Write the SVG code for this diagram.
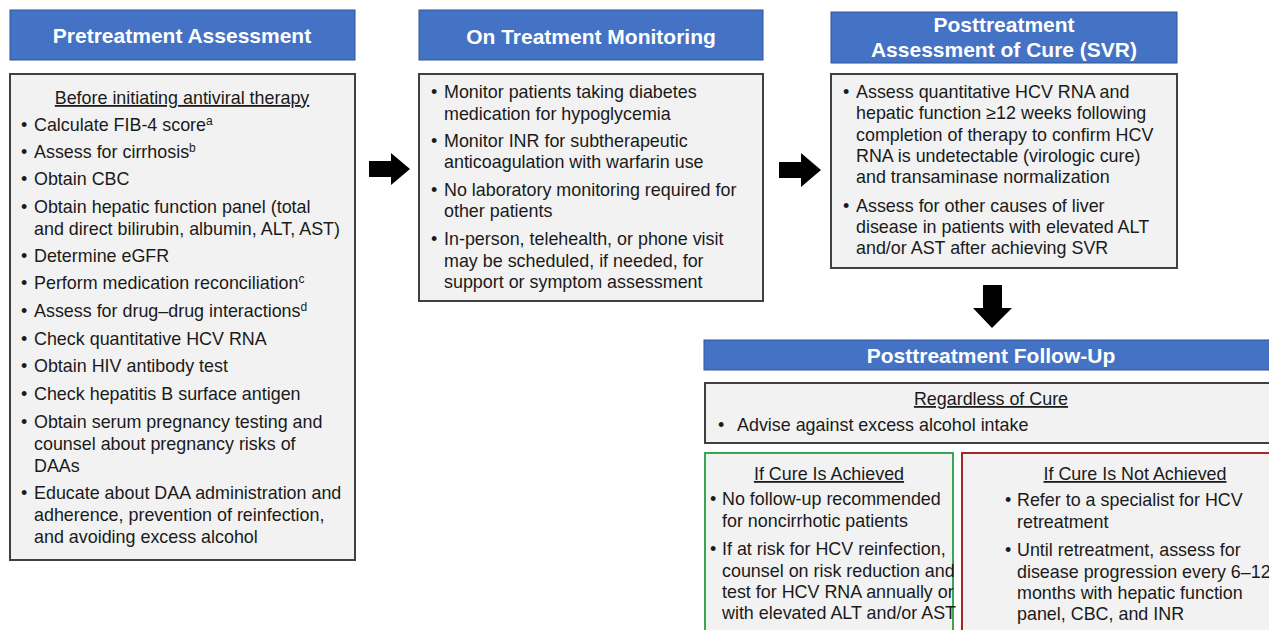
<svg xmlns="http://www.w3.org/2000/svg" width="1269" height="630" viewBox="0 0 1269 630">
<style>
.hdr{fill:#4472C4;stroke:#2F5597;stroke-width:1}
.ht{font-family:"Liberation Sans",Arial,sans-serif;font-weight:bold;font-size:21px;fill:#fff;text-anchor:middle}
.box{fill:#F2F2F2;stroke:#404040;stroke-width:2}
.t{font-family:"Liberation Sans",Arial,sans-serif;font-size:17.9px;fill:#1a1a1a}
.u{text-decoration:underline;text-anchor:middle}
.arr{fill:#000}
</style>
<rect width="1269" height="630" fill="#fff"/>

<g id="pretreatment">
<rect class="hdr" x="10" y="10" width="345" height="50"/>
<text class="ht" x="182" y="43">Pretreatment Assessment</text>
<rect class="box" x="10" y="74" width="345" height="486"/>
<text class="t u" x="182" y="104">Before initiating antiviral therapy</text>
<g class="t">
<text x="21" y="131">•</text><text x="34" y="131">Calculate FIB-4 score<tspan font-size="12" dy="-6">a</tspan></text>
<text x="21" y="158">•</text><text x="34" y="158">Assess for cirrhosis<tspan font-size="12" dy="-6">b</tspan></text>
<text x="21" y="185">•</text><text x="34" y="185">Obtain CBC</text>
<text x="21" y="213">•</text><text x="34" y="213">Obtain hepatic function panel (total</text>
<text x="34" y="235">and direct bilirubin, albumin, ALT, AST)</text>
<text x="21" y="262">•</text><text x="34" y="262">Determine eGFR</text>
<text x="21" y="289">•</text><text x="34" y="289">Perform medication reconciliation<tspan font-size="12" dy="-6">c</tspan></text>
<text x="21" y="317">•</text><text x="34" y="317">Assess for drug–drug interactions<tspan font-size="12" dy="-6">d</tspan></text>
<text x="21" y="345">•</text><text x="34" y="345">Check quantitative HCV RNA</text>
<text x="21" y="372">•</text><text x="34" y="372">Obtain HIV antibody test</text>
<text x="21" y="400">•</text><text x="34" y="400">Check hepatitis B surface antigen</text>
<text x="21" y="428">•</text><text x="34" y="428">Obtain serum pregnancy testing and</text>
<text x="34" y="450">counsel about pregnancy risks of</text>
<text x="34" y="472">DAAs</text>
<text x="21" y="499">•</text><text x="34" y="499">Educate about DAA administration and</text>
<text x="34" y="521">adherence, prevention of reinfection,</text>
<text x="34" y="543">and avoiding excess alcohol</text>
</g>
</g>

<g id="on-treatment">
<rect class="hdr" x="419" y="10" width="344" height="50"/>
<text class="ht" x="591" y="44">On Treatment Monitoring</text>
<rect class="box" x="419" y="74" width="344" height="227"/>
<g class="t">
<text x="431" y="98">•</text><text x="444" y="98">Monitor patients taking diabetes</text>
<text x="444" y="120">medication for hypoglycemia</text>
<text x="431" y="147">•</text><text x="444" y="147">Monitor INR for subtherapeutic</text>
<text x="444" y="168">anticoagulation with warfarin use</text>
<text x="431" y="196">•</text><text x="444" y="196">No laboratory monitoring required for</text>
<text x="444" y="217">other patients</text>
<text x="431" y="245">•</text><text x="444" y="245">In-person, telehealth, or phone visit</text>
<text x="444" y="267">may be scheduled, if needed, for</text>
<text x="444" y="288">support or symptom assessment</text>
</g>
</g>

<g id="posttreatment-assessment">
<rect class="hdr" x="831" y="12" width="346" height="51"/>
<text class="ht" x="1004" y="32">Posttreatment</text>
<text class="ht" x="1004" y="57">Assessment of Cure (SVR)</text>
<rect class="box" x="831" y="74" width="346" height="194"/>
<g class="t">
<text x="843" y="98">•</text><text x="856" y="98">Assess quantitative HCV RNA and</text>
<text x="856" y="119">hepatic function ≥12 weeks following</text>
<text x="856" y="141">completion of therapy to confirm HCV</text>
<text x="856" y="162">RNA is undetectable (virologic cure)</text>
<text x="856" y="183">and transaminase normalization</text>
<text x="843" y="212">•</text><text x="856" y="212">Assess for other causes of liver</text>
<text x="856" y="233">disease in patients with elevated ALT</text>
<text x="856" y="254">and/or AST after achieving SVR</text>
</g>
</g>

<g id="followup">
<rect class="hdr" x="704" y="340" width="575" height="30"/>
<text class="ht" x="991" y="363">Posttreatment Follow-Up</text>
</g>

<g id="regardless">
<rect class="box" x="705" y="383" width="574" height="60"/>
<text class="t u" x="991" y="405">Regardless of Cure</text>
<text class="t" x="718" y="431">•</text><text class="t" x="737" y="431">Advise against excess alcohol intake</text>
</g>

<g id="cure-achieved">
<rect x="705" y="453" width="248" height="190" fill="#F2F2F2" stroke="#3AA655" stroke-width="2"/>
<text class="t u" x="829" y="480">If Cure Is Achieved</text>
<g class="t">
<text x="710" y="505">•</text><text x="722" y="505">No follow-up recommended</text>
<text x="722" y="527">for noncirrhotic patients</text>
<text x="710" y="555">•</text><text x="722" y="555">If at risk for HCV reinfection,</text>
<text x="722" y="577">counsel on risk reduction and</text>
<text x="722" y="598">test for HCV RNA annually or</text>
<text x="722" y="619">with elevated ALT and/or AST</text>
</g>
</g>

<g id="cure-not-achieved">
<rect x="962" y="453" width="320" height="190" fill="#F2F2F2" stroke="#A0282B" stroke-width="2"/>
<text class="t u" x="1135" y="480">If Cure Is Not Achieved</text>
<g class="t">
<text x="1005" y="506">•</text><text x="1017" y="506">Refer to a specialist for HCV</text>
<text x="1017" y="528">retreatment</text>
<text x="1005" y="556">•</text><text x="1017" y="556">Until retreatment, assess for</text>
<text x="1017" y="578">disease progression every 6–12</text>
<text x="1017" y="599">months with hepatic function</text>
<text x="1017" y="620">panel, CBC, and INR</text>
</g>
</g>

<g id="connectors">
<polygon class="arr" points="369,161 391,161 391,153 410,169 391,185 391,177 369,177"/>
<polygon class="arr" points="779,162 801,162 801,153 821,170 801,187 801,178 779,178"/>
<polygon class="arr" points="983,285 1002,285 1002,308 1012,308 992,328 973,308 983,308"/>
</g>
</svg>
